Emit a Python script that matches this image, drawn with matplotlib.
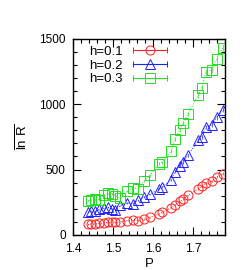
import numpy as np
import matplotlib
matplotlib.use("Agg")
import matplotlib.pyplot as plt
from matplotlib.lines import Line2D
from matplotlib.legend_handler import HandlerTuple, HandlerLine2D
from matplotlib.ticker import MultipleLocator

plt.rcParams['font.family'] = ['Liberation Sans', 'DejaVu Sans']
plt.rcParams['mathtext.fontset'] = 'custom'
plt.rcParams['mathtext.rm'] = 'Liberation Sans'

# data
P = [1.437, 1.445, 1.455, 1.465, 1.478, 1.488, 1.497, 1.505, 1.518, 1.535,
     1.549, 1.563, 1.577, 1.592, 1.615, 1.623, 1.645, 1.654, 1.666, 1.675,
     1.687, 1.713, 1.721, 1.732, 1.746, 1.759, 1.774]
h01 = [80, 82, 84, 88, 92, 95, 97, 95, 100, 108, 112, 110, 120, 135, 160,
       174, 208, 230, 256, 272, 302, 354, 372, 397, 410, 443, 469]
h02 = [175, 182, 180, 195, 205, 210, 200, 190, 225, 245, 240, 265, 290,
       310, 355, 366, 423, 482, 530, 555, 610, 725, 751, 828, 841, 900, 956]
h03 = [262, 268, 272, 270, 305, 318, 315, 300, 282, 335, 361, 353, 412,
       456, 545, 555, 643, 731, 802, 858, 925, 1072, 1123, 1243, 1264, 1346, 1431]
labels = ['h=0.1', 'h=0.2', 'h=0.3']
colors = ['#ff2020', '#2020ff', '#20e020']
markers = ['o', '^', 's']
msizes = [6.5, 6.5, 7]

fig = plt.figure(figsize=(2.51, 2.70), dpi=100)
ax = fig.add_axes([0.292, 0.13, 0.605, 0.726])

handles = []
hmap = {}
for y, lab, c, m, ms in zip([h01, h02, h03], labels, colors, markers, msizes):
    ax.errorbar(P, y, yerr=np.array(y) * 0.02, color=c, marker=m, mfc='none',
                mec=c, ms=ms, mew=0.7, ls=':', lw=0.7, elinewidth=0.5,
                capsize=0)
    caps = Line2D([], [], color=c, marker='|', ms=4, mew=0.7, lw=0.8)
    mark = Line2D([], [], color=c, marker=m, mfc='none', mec=c, ms=ms,
                  mew=0.7, lw=0)
    hmap[caps] = HandlerLine2D(numpoints=2)
    handles.append((caps, mark))
hmap[tuple] = HandlerTuple(ndivide=1)

leg = ax.legend(handles, labels, loc='upper left', frameon=False,
                fontsize=9.5, handlelength=3.2, handletextpad=0.5,
                bbox_to_anchor=(0.06, 1.0), borderaxespad=0.1,
                labelspacing=0.12, markerfirst=False, handler_map=hmap)

ax.set_xlim(1.4, 1.78)
ax.set_ylim(0, 1500)
ax.xaxis.set_major_locator(MultipleLocator(0.1))
ax.xaxis.set_minor_locator(MultipleLocator(0.02))
ax.yaxis.set_major_locator(MultipleLocator(500))
ax.yaxis.set_minor_locator(MultipleLocator(100))
ax.tick_params(which='both', direction='in', top=True, right=True,
               labelsize=8.5, width=0.8)
ax.tick_params(which='major', length=6)
ax.tick_params(axis='x', which='major', pad=6)
ax.tick_params(axis='y', which='major', pad=5.5)
ax.tick_params(which='minor', length=3)
for s in ax.spines.values():
    s.set_linewidth(1.0)

ax.set_xlabel('P', fontsize=9.5, labelpad=2)
ax.set_ylabel(r'$\overline{\mathrm{ln\ R}}$', fontsize=9.5, labelpad=6)

fig.savefig('out.png', dpi=100)
